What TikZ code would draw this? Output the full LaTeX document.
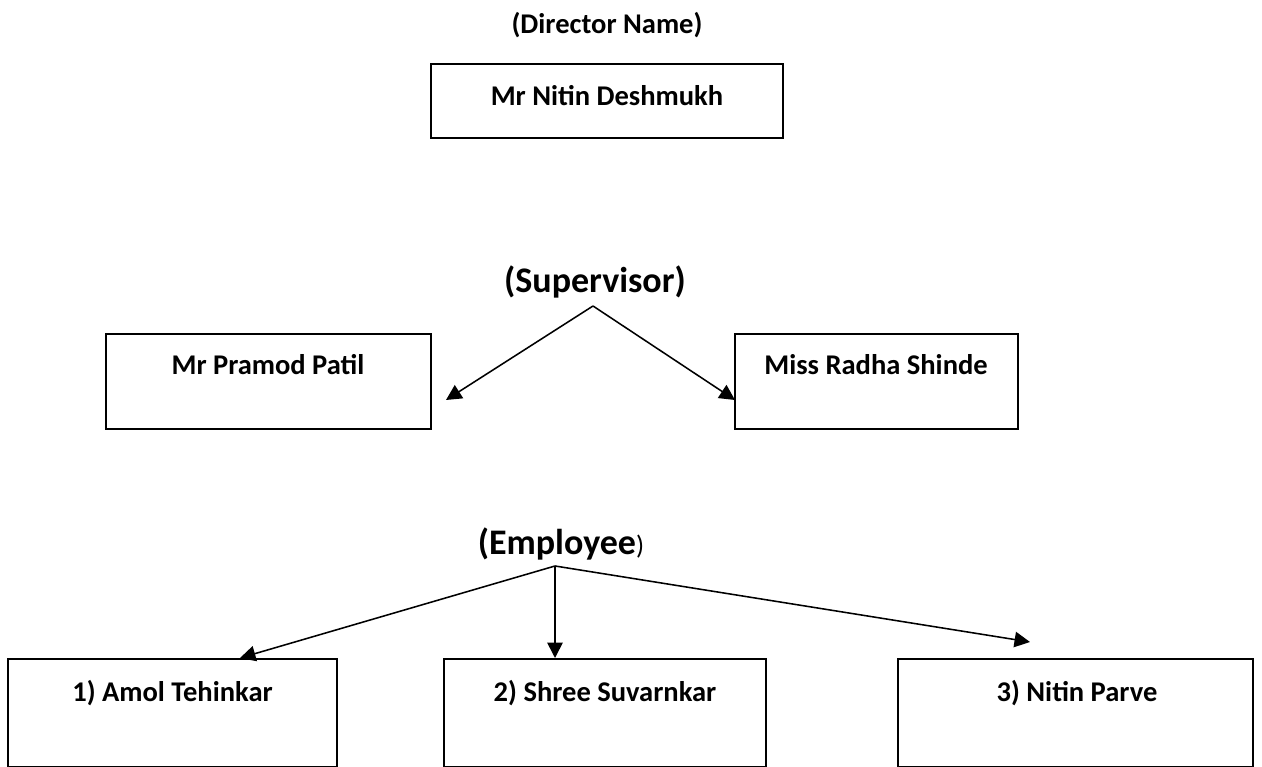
\documentclass[tikz,border=0pt]{standalone}
\usepackage{fontspec}
\setmainfont{Carlito}
\usetikzlibrary{arrows.meta}

\begin{document}
\begin{tikzpicture}[
        namebox/.style={draw=black, line width=1.4pt, inner sep=0pt},
        nametext/.style={font=\bfseries\fontsize{20.3}{24}\selectfont},
        headtext/.style={font=\bfseries\fontsize{25.6}{30}\selectfont},
        link/.style={line width=1.1pt, ->, >={Triangle[length=11pt,width=11pt]}}
    ]
    \useasboundingbox (0,0) rectangle (31.55,19.175);

    % director
    \node[nametext] (dirhead) at (15.175,18.55)  {(Director Name)};
    \node[namebox, minimum width=8.8cm, minimum height=1.85cm] (dirbox) at (15.175,16.65) {};
    \node[nametext] (dirname) at (15.175,16.78) {Mr Nitin Deshmukh};

    % supervisors
    \node[headtext] (suphead) at (14.875,12.125) {(Supervisor)};
    \coordinate (supfork) at (14.825,11.525);
    \node[namebox, minimum width=8.125cm, minimum height=2.375cm] (supA) at (6.7125,9.6375) {};
    \node[namebox, minimum width=7.075cm, minimum height=2.375cm] (supB) at (21.9125,9.6375) {};
    \node[nametext] (supAname) at (6.7,10.05)   {Mr Pramod Patil};
    \node[nametext] (supBname) at (21.9,10.05)  {Miss Radha Shinde};
    \coordinate (supAtip) at (11.15,9.175);
    \coordinate (supBtip) at (18.375,9.175);

    \draw[link] (supfork) -- (supAtip);
    \draw[link] (supfork) -- (supBtip);

    % employees
    \node[headtext] (emphead) at (14.025,5.575) {(Employee{\mdseries\fontsize{19}{22}\selectfont)}};
    \coordinate (empfork) at (13.875,5.025);
    \node[namebox, minimum width=8.225cm, minimum height=2.7cm] (empA) at (4.3125,1.35)  {};
    \node[namebox, minimum width=8.05cm,  minimum height=2.7cm] (empB) at (15.125,1.35)  {};
    \node[namebox, minimum width=8.875cm, minimum height=2.7cm] (empC) at (26.8875,1.35) {};
    \node[nametext] (empAname) at (4.3125,1.85)  {1) Amol Tehinkar};
    \node[nametext] (empBname) at (15.125,1.85)  {2) Shree Suvarnkar};
    \node[nametext] (empCname) at (26.925,1.85)  {3) Nitin Parve};
    \coordinate (empCtip) at (25.75,3.125);

    \draw[link] (empfork) -- (empA.north -| 6.0,0);
    \draw[link] (empfork) -- (empB.north -| empfork);
    \draw[link] (empfork) -- (empCtip);
\end{tikzpicture}
\end{document}
